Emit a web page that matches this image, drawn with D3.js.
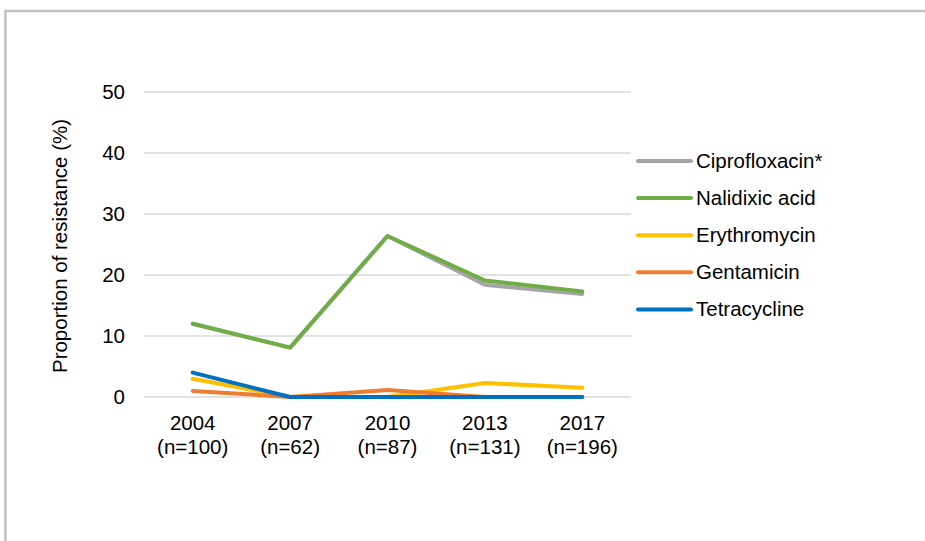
<!DOCTYPE html>
<html>
<head>
<meta charset="utf-8">
<script src="https://cdn.jsdelivr.net/npm/d3@7"></script>
<style>
  body { margin: 0; background: #fff; }
  text { font-family: "Liberation Sans", Arial, sans-serif; fill: #000; }
</style>
</head>
<body>
<svg width="925" height="541"></svg>
<script>
const years = ['2004', '2007', '2010', '2013', '2017'];
const sampleSizes = ['(n=100)', '(n=62)', '(n=87)', '(n=131)', '(n=196)'];
const drugs = ['Ciprofloxacin*', 'Nalidixic acid', 'Erythromycin', 'Gentamicin', 'Tetracycline'];
const cipro = [12, 8.1, 26.4, 18.4, 16.9];
const nalidixic = [12, 8.1, 26.4, 19.1, 17.3];
const erythro = [3, 0, 0, 2.3, 1.5];
const genta = [1, 0, 1.15, 0, 0];
const tetra = [4, 0, 0, 0, 0];
const yTicks = [0, 10, 20, 30, 40, 50];
const colours = ['#a5a5a5', '#70ad47', '#ffc000', '#ed7d31', '#0070c0'];

const series = [cipro, nalidixic, erythro, genta, tetra];
const fs = '20.5px';

const svg = d3.select('svg');

// outer frame (cut off at right and bottom)
svg.append('rect')
    .attr('x', 5.5).attr('y', 11)
    .attr('width', 1000).attr('height', 600)
    .attr('fill', 'none')
    .attr('stroke', '#bfbfbf')
    .attr('stroke-width', 2.5);

const x = d3.scalePoint().domain(years).range([144, 631]).padding(0.5);
const y = d3.scaleLinear().domain([0, 50]).range([397, 92]);

// gridlines
svg.append('g').selectAll('line').data(yTicks)
  .enter().append('line')
    .attr('x1', 144).attr('x2', 631)
    .attr('y1', d => y(d)).attr('y2', d => y(d))
    .attr('stroke', '#d9d9d9')
    .attr('stroke-width', 1.5);

// y tick labels
svg.append('g').selectAll('text').data(yTicks)
  .enter().append('text')
    .attr('x', 125)
    .attr('y', d => y(d) + 7)
    .attr('text-anchor', 'end')
    .style('font-size', fs)
    .text(d => d);

// x labels (two lines)
const xl = svg.append('g').selectAll('text').data(years)
  .enter().append('text')
    .attr('text-anchor', 'middle')
    .style('font-size', fs);
xl.append('tspan')
    .attr('x', d => x(d)).attr('y', 429.5)
    .text(d => d);
xl.append('tspan')
    .attr('x', d => x(d)).attr('y', 454)
    .text((d, i) => sampleSizes[i]);

// y axis title
svg.append('text')
    .attr('transform', 'translate(66.5,246) rotate(-90)')
    .attr('text-anchor', 'middle')
    .style('font-size', fs)
    .text('Proportion of resistance (%)');

const line = d3.line()
    .x((d, i) => x(years[i]))
    .y(d => y(d));

svg.append('g').selectAll('path').data(series)
  .enter().append('path')
    .attr('d', line)
    .attr('fill', 'none')
    .attr('stroke', (d, i) => colours[i])
    .attr('stroke-width', 4)
    .attr('stroke-linecap', 'round')
    .attr('stroke-linejoin', 'round');

// legend
const leg = svg.append('g').selectAll('g').data(drugs)
  .enter().append('g')
    .attr('transform', (d, i) => `translate(638,${161 + i * 37.1})`);
leg.append('line')
    .attr('x1', 0).attr('x2', 53)
    .attr('stroke', (d, i) => colours[i])
    .attr('stroke-width', 4)
    .attr('stroke-linecap', 'round');
leg.append('text')
    .attr('x', 58)
    .attr('y', 7)
    .style('font-size', fs)
    .text(d => d);
</script>
</body>
</html>
